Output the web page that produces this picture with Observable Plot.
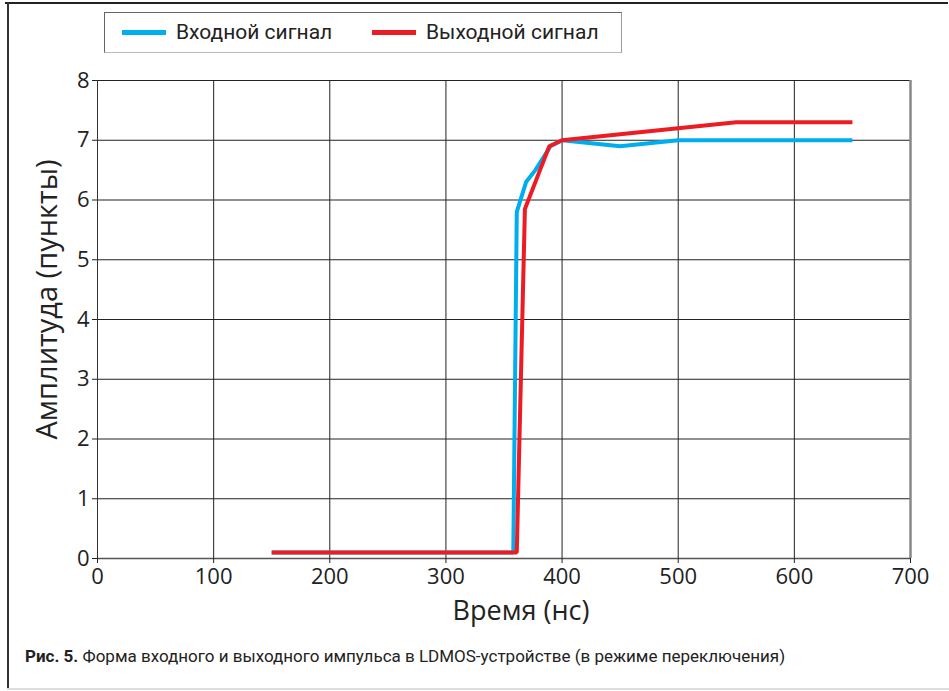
<!DOCTYPE html>
<html>
<head>
<meta charset="utf-8">
<script src="https://cdn.jsdelivr.net/npm/d3@7"></script>
<script src="https://cdn.jsdelivr.net/npm/@observablehq/plot@0.6"></script>
<style>
  html, body { margin: 0; padding: 0; background: #fff; }
  #wrap { position: relative; width: 949px; height: 691px; overflow: hidden; background: #fff; }
  #frameTop { position: absolute; left: 5px; top: 2px; width: 943px; height: 2px; background: #222; }
  #frameLeft { position: absolute; left: 7px; top: 2px; width: 2px; height: 687px; background: #333; }
  #frameBottom { position: absolute; left: 7px; top: 688px; width: 942px; height: 2px; background: #ddd; }
  #legend { position: absolute; left: 104px; top: 12px; width: 518px; height: 41px;
            border: 1.5px solid #666; border-right-color: #999; border-bottom-color: #bbb; box-sizing: border-box;
            font-family: "Liberation Sans Narrow", "Arial Narrow", "Roboto", sans-serif; font-size: 21px; color: #222; }
  .item { position: absolute; top: 7px; display: flex; align-items: center; }
  .swatch { width: 44px; height: 5px; margin-right: 10px; }
  #chart { position: absolute; left: 0; top: 60px; }
  #caption { position: absolute; left: 25px; top: 646px; font-family: "Liberation Sans Narrow", "Roboto", sans-serif;
             font-size: 17px; color: #222; }
</style>
</head>
<body>
<div id="wrap">
  <div id="frameTop"></div>
  <div id="frameLeft"></div>
  <div id="frameBottom"></div>
  <div id="legend"></div>
  <div id="chart"></div>
  <div id="caption"></div>
</div>
<script>
// ---- data ----
const seriesNames = ["Входной сигнал", "Выходной сигнал"];
const seriesColors = ["#00AEEF", "#ED1C24"];
const inputTime = [150, 358, 361, 369, 377, 390, 400, 450, 500, 650];
const inputAmp  = [0.1, 0.1, 5.8, 6.3, 6.5, 6.9, 7.0, 6.9, 7.0, 7.0];
const outputTime = [150, 361, 368, 380, 389, 400, 550, 650];
const outputAmp  = [0.1, 0.1, 5.85, 6.45, 6.9, 7.0, 7.3, 7.3];
const xTicks = [0, 100, 200, 300, 400, 500, 600, 700];
const yTicks = [0, 1, 2, 3, 4, 5, 6, 7, 8];
const xLabel = "Время (нс)";
const yLabel = "Амплитуда (пункты)";
const captionBold = "Рис. 5.";
const captionText = " Форма входного и выходного импульса в LDMOS-устройстве (в режиме переключения)";

const rows = [];
inputTime.forEach((t, i) => rows.push({t, a: inputAmp[i], s: seriesNames[0]}));
outputTime.forEach((t, i) => rows.push({t, a: outputAmp[i], s: seriesNames[1]}));

// legend
const legend = document.getElementById("legend");
const lx = [17, 267];
seriesNames.forEach((n, i) => {
  const d = document.createElement("div");
  d.className = "item";
  d.style.left = lx[i] + "px";
  d.innerHTML = `<div class="swatch" style="background:${seriesColors[i]}"></div><span>${n}</span>`;
  legend.appendChild(d);
});
document.getElementById("caption").innerHTML = `<b>${captionBold}</b>${captionText}`;

const tickFont = "'Open Sans', 'DejaVu Sans', sans-serif";
const chart = Plot.plot({
  width: 949,
  height: 570,
  marginLeft: 97,
  marginRight: 39,
  marginTop: 20,
  marginBottom: 72,
  style: {fontFamily: tickFont, fontSize: "22px", color: "#222", background: "transparent"},
  x: {domain: [0, 700], ticks: xTicks, label: null},
  y: {domain: [0, 8], ticks: yTicks, label: null},
  color: {domain: seriesNames, range: seriesColors},
  marks: [
    Plot.gridX(xTicks, {stroke: "#222", strokeOpacity: 1, strokeWidth: 1}),
    Plot.gridY(yTicks, {stroke: "#222", strokeOpacity: 1, strokeWidth: 1}),
    Plot.ruleX([700], {stroke: "#888", strokeWidth: 2.5}),
    Plot.ruleY([0], {stroke: "#555", strokeWidth: 1.5}),
    Plot.ruleX([0], {stroke: "#333", strokeWidth: 1}),
    Plot.axisX(xTicks, {tickSize: 5, tickPadding: 5, fontSize: 22, label: null, tickFormat: d => String(d)}),
    Plot.axisY(yTicks, {tickSize: 5, tickPadding: 3, fontSize: 22, label: null, tickFormat: d => String(d)}),
    Plot.line(rows, {x: "t", y: "a", z: "s", stroke: "s", strokeWidth: 4, strokeLinejoin: "miter", strokeLinecap: "butt"}),
    Plot.text([xLabel], {frameAnchor: "bottom", lineAnchor: "middle", dy: 53, dx: 17, fontSize: 27, fill: "#222"}),
    Plot.text([yLabel], {frameAnchor: "left", textAnchor: "middle", lineAnchor: "middle", dx: -50, dy: -20, rotate: -90, fontSize: 29, fill: "#222"})
  ]
});
document.getElementById("chart").appendChild(chart);
</script>
</body>
</html>
